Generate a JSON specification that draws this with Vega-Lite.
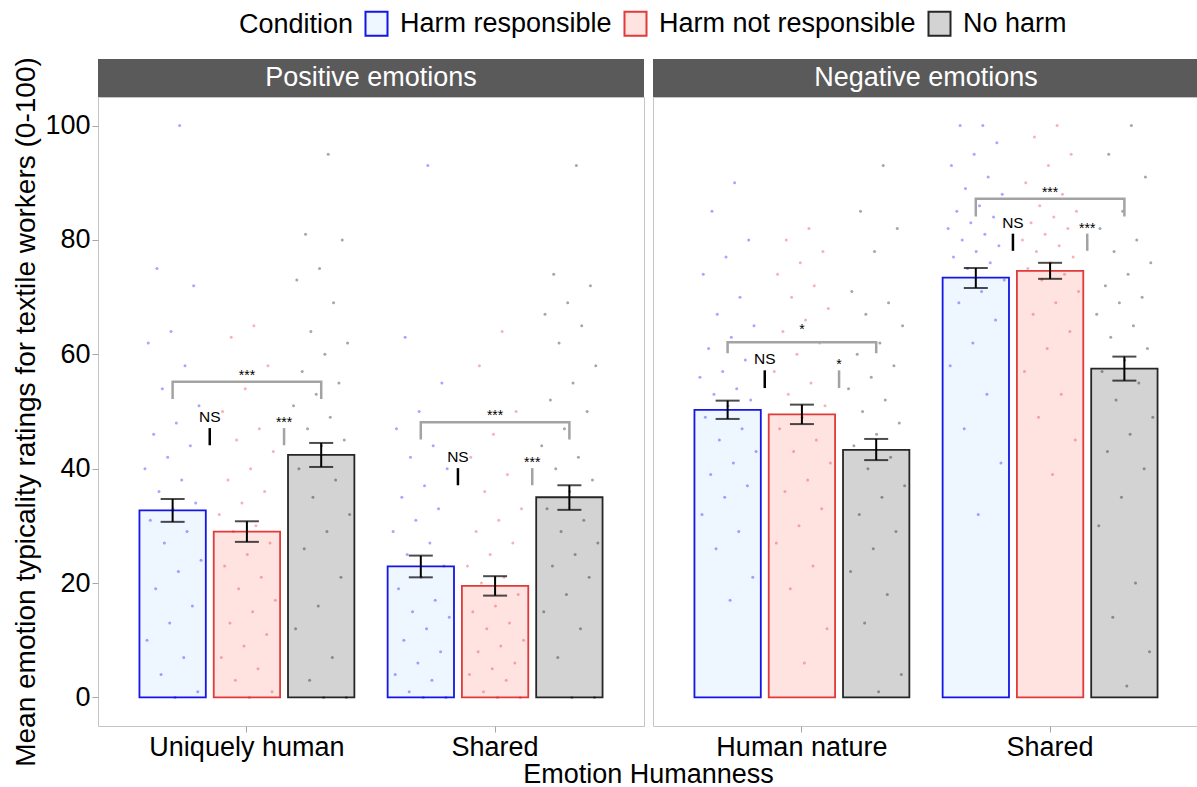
{
  "$schema": "https://vega.github.io/schema/vega-lite/v6.json",
  "padding": {"left": 12, "right": 0, "top": 10, "bottom": 0},
  "config": {
    "font": "Liberation Sans",
    "view": {"stroke": null},
    "axis": {"labelColor": "#000000", "titleColor": "#000000", "labelFontSize": 27, "titleFontSize": 28, "titleFontWeight": "normal", "tickColor": "#A6A6A6", "tickSize": 6, "tickWidth": 1, "domain": false, "grid": false, "labelLimit": 0},
    "legend": {"orient": "none", "legendX": 141, "legendY": -49, "direction": "horizontal", "titleOrient": "left", "titleFontSize": 27, "titleFontWeight": "normal", "titleColor": "#000000", "labelFontSize": 27, "labelColor": "#000000", "labelLimit": 0, "titleLimit": 0, "symbolSize": 576, "symbolStrokeWidth": 2, "symbolType": "M-0.917,-1H0.917V1H-0.917Z", "labelOffset": 10, "columnPadding": 8, "titlePadding": 9}
  },
  "datasets": {
    "summary": [
      {"valence": "Positive emotions", "humanness": "Uniquely human", "condition": "Harm responsible", "mean": 32.7, "lo": 30.7, "hi": 34.7},
      {"valence": "Positive emotions", "humanness": "Uniquely human", "condition": "Harm not responsible", "mean": 29.0, "lo": 27.2, "hi": 30.8},
      {"valence": "Positive emotions", "humanness": "Uniquely human", "condition": "No harm", "mean": 42.4, "lo": 40.3, "hi": 44.5},
      {"valence": "Positive emotions", "humanness": "Shared", "condition": "Harm responsible", "mean": 22.9, "lo": 21.0, "hi": 24.8},
      {"valence": "Positive emotions", "humanness": "Shared", "condition": "Harm not responsible", "mean": 19.5, "lo": 17.8, "hi": 21.2},
      {"valence": "Positive emotions", "humanness": "Shared", "condition": "No harm", "mean": 35.0, "lo": 32.8, "hi": 37.1},
      {"valence": "Negative emotions", "humanness": "Human nature", "condition": "Harm responsible", "mean": 50.3, "lo": 48.7, "hi": 51.9},
      {"valence": "Negative emotions", "humanness": "Human nature", "condition": "Harm not responsible", "mean": 49.5, "lo": 47.8, "hi": 51.2},
      {"valence": "Negative emotions", "humanness": "Human nature", "condition": "No harm", "mean": 43.3, "lo": 41.5, "hi": 45.2},
      {"valence": "Negative emotions", "humanness": "Shared", "condition": "Harm responsible", "mean": 73.4, "lo": 71.6, "hi": 75.1},
      {"valence": "Negative emotions", "humanness": "Shared", "condition": "Harm not responsible", "mean": 74.6, "lo": 73.2, "hi": 76.0},
      {"valence": "Negative emotions", "humanness": "Shared", "condition": "No harm", "mean": 57.5, "lo": 55.4, "hi": 59.6}
    ],
    "brackets": [
      {"valence": "Positive emotions", "humanness": "Uniquely human", "pos": "Harm responsible", "y": 52.2, "ord": 1},
      {"valence": "Positive emotions", "humanness": "Uniquely human", "pos": "Harm responsible", "y": 55.2, "ord": 2},
      {"valence": "Positive emotions", "humanness": "Uniquely human", "pos": "No harm", "y": 55.2, "ord": 3},
      {"valence": "Positive emotions", "humanness": "Uniquely human", "pos": "No harm", "y": 52.2, "ord": 4},
      {"valence": "Positive emotions", "humanness": "Shared", "pos": "Harm responsible", "y": 45.1, "ord": 1},
      {"valence": "Positive emotions", "humanness": "Shared", "pos": "Harm responsible", "y": 48.1, "ord": 2},
      {"valence": "Positive emotions", "humanness": "Shared", "pos": "No harm", "y": 48.1, "ord": 3},
      {"valence": "Positive emotions", "humanness": "Shared", "pos": "No harm", "y": 45.1, "ord": 4},
      {"valence": "Negative emotions", "humanness": "Human nature", "pos": "Harm responsible", "y": 60.2, "ord": 1},
      {"valence": "Negative emotions", "humanness": "Human nature", "pos": "Harm responsible", "y": 62.1, "ord": 2},
      {"valence": "Negative emotions", "humanness": "Human nature", "pos": "No harm", "y": 62.1, "ord": 3},
      {"valence": "Negative emotions", "humanness": "Human nature", "pos": "No harm", "y": 60.2, "ord": 4},
      {"valence": "Negative emotions", "humanness": "Shared", "pos": "Harm responsible", "y": 84.1, "ord": 1},
      {"valence": "Negative emotions", "humanness": "Shared", "pos": "Harm responsible", "y": 87.2, "ord": 2},
      {"valence": "Negative emotions", "humanness": "Shared", "pos": "No harm", "y": 87.2, "ord": 3},
      {"valence": "Negative emotions", "humanness": "Shared", "pos": "No harm", "y": 84.1, "ord": 4}
    ],
    "bracketLabels": [
      {"valence": "Positive emotions", "humanness": "Uniquely human", "pos": "Harm not responsible", "label": "***", "y": 55.4},
      {"valence": "Positive emotions", "humanness": "Shared", "pos": "Harm not responsible", "label": "***", "y": 48.3},
      {"valence": "Negative emotions", "humanness": "Human nature", "pos": "Harm not responsible", "label": "*", "y": 63.4},
      {"valence": "Negative emotions", "humanness": "Shared", "pos": "Harm not responsible", "label": "***", "y": 87.4}
    ],
    "tests": [
      {"valence": "Positive emotions", "humanness": "Uniquely human", "pair": "HR vs HN", "label": "NS", "top": 47.1, "bottom": 44.1},
      {"valence": "Positive emotions", "humanness": "Uniquely human", "pair": "HN vs NH", "label": "***", "top": 47.1, "bottom": 44.1},
      {"valence": "Positive emotions", "humanness": "Shared", "pair": "HR vs HN", "label": "NS", "top": 40.1, "bottom": 37.1},
      {"valence": "Positive emotions", "humanness": "Shared", "pair": "HN vs NH", "label": "***", "top": 40.1, "bottom": 37.1},
      {"valence": "Negative emotions", "humanness": "Human nature", "pair": "HR vs HN", "label": "NS", "top": 57.2, "bottom": 54.1},
      {"valence": "Negative emotions", "humanness": "Human nature", "pair": "HN vs NH", "label": "*", "top": 57.2, "bottom": 54.1},
      {"valence": "Negative emotions", "humanness": "Shared", "pair": "HR vs HN", "label": "NS", "top": 81.1, "bottom": 78.1},
      {"valence": "Negative emotions", "humanness": "Shared", "pair": "HN vs NH", "label": "***", "top": 81.1, "bottom": 78.1}
    ],
    "posUH": [
      {"cond":"HR","rating":100},{"cond":"HR","rating":75},{"cond":"HR","rating":72},{"cond":"HR","rating":64},{"cond":"HR","rating":62},{"cond":"HR","rating":58},{"cond":"HR","rating":54},{"cond":"HR","rating":51},{"cond":"HR","rating":48},{"cond":"HR","rating":46},{"cond":"HR","rating":44},{"cond":"HR","rating":42},{"cond":"HR","rating":40},{"cond":"HR","rating":38},{"cond":"HR","rating":36},{"cond":"HR","rating":34},{"cond":"HR","rating":33},{"cond":"HR","rating":31},{"cond":"HR","rating":29},{"cond":"HR","rating":27},{"cond":"HR","rating":24},{"cond":"HR","rating":22},{"cond":"HR","rating":19},{"cond":"HR","rating":16},{"cond":"HR","rating":13},{"cond":"HR","rating":10},{"cond":"HR","rating":7},{"cond":"HR","rating":4},{"cond":"HR","rating":1},{"cond":"HR","rating":0},
      {"cond":"HN","rating":65},{"cond":"HN","rating":63},{"cond":"HN","rating":58},{"cond":"HN","rating":54},{"cond":"HN","rating":50},{"cond":"HN","rating":47},{"cond":"HN","rating":45},{"cond":"HN","rating":43},{"cond":"HN","rating":40},{"cond":"HN","rating":38},{"cond":"HN","rating":36},{"cond":"HN","rating":34},{"cond":"HN","rating":32},{"cond":"HN","rating":30},{"cond":"HN","rating":29},{"cond":"HN","rating":27},{"cond":"HN","rating":25},{"cond":"HN","rating":23},{"cond":"HN","rating":21},{"cond":"HN","rating":19},{"cond":"HN","rating":17},{"cond":"HN","rating":15},{"cond":"HN","rating":13},{"cond":"HN","rating":11},{"cond":"HN","rating":9},{"cond":"HN","rating":7},{"cond":"HN","rating":5},{"cond":"HN","rating":3},{"cond":"HN","rating":1},{"cond":"HN","rating":0},
      {"cond":"NH","rating":95},{"cond":"NH","rating":81},{"cond":"NH","rating":80},{"cond":"NH","rating":75},{"cond":"NH","rating":73},{"cond":"NH","rating":69},{"cond":"NH","rating":64},{"cond":"NH","rating":62},{"cond":"NH","rating":60},{"cond":"NH","rating":57},{"cond":"NH","rating":55},{"cond":"NH","rating":53},{"cond":"NH","rating":51},{"cond":"NH","rating":49},{"cond":"NH","rating":47},{"cond":"NH","rating":45},{"cond":"NH","rating":44},{"cond":"NH","rating":40},{"cond":"NH","rating":38},{"cond":"NH","rating":35},{"cond":"NH","rating":32},{"cond":"NH","rating":29},{"cond":"NH","rating":26},{"cond":"NH","rating":21},{"cond":"NH","rating":16},{"cond":"NH","rating":12},{"cond":"NH","rating":7},{"cond":"NH","rating":3},{"cond":"NH","rating":0},{"cond":"NH","rating":0}
    ],
    "posSH": [
      {"cond":"HR","rating":93},{"cond":"HR","rating":63},{"cond":"HR","rating":55},{"cond":"HR","rating":50},{"cond":"HR","rating":47},{"cond":"HR","rating":44},{"cond":"HR","rating":42},{"cond":"HR","rating":40},{"cond":"HR","rating":37},{"cond":"HR","rating":35},{"cond":"HR","rating":33},{"cond":"HR","rating":31},{"cond":"HR","rating":29},{"cond":"HR","rating":27},{"cond":"HR","rating":25},{"cond":"HR","rating":23},{"cond":"HR","rating":21},{"cond":"HR","rating":19},{"cond":"HR","rating":17},{"cond":"HR","rating":15},{"cond":"HR","rating":14},{"cond":"HR","rating":12},{"cond":"HR","rating":10},{"cond":"HR","rating":8},{"cond":"HR","rating":6},{"cond":"HR","rating":4},{"cond":"HR","rating":3},{"cond":"HR","rating":1},{"cond":"HR","rating":0},{"cond":"HR","rating":0},
      {"cond":"HN","rating":64},{"cond":"HN","rating":58},{"cond":"HN","rating":50},{"cond":"HN","rating":46},{"cond":"HN","rating":42},{"cond":"HN","rating":39},{"cond":"HN","rating":36},{"cond":"HN","rating":33},{"cond":"HN","rating":31},{"cond":"HN","rating":29},{"cond":"HN","rating":27},{"cond":"HN","rating":25},{"cond":"HN","rating":23},{"cond":"HN","rating":21},{"cond":"HN","rating":20},{"cond":"HN","rating":18},{"cond":"HN","rating":16},{"cond":"HN","rating":15},{"cond":"HN","rating":13},{"cond":"HN","rating":12},{"cond":"HN","rating":10},{"cond":"HN","rating":9},{"cond":"HN","rating":8},{"cond":"HN","rating":6},{"cond":"HN","rating":5},{"cond":"HN","rating":4},{"cond":"HN","rating":3},{"cond":"HN","rating":1},{"cond":"HN","rating":0},{"cond":"HN","rating":0},
      {"cond":"NH","rating":93},{"cond":"NH","rating":74},{"cond":"NH","rating":72},{"cond":"NH","rating":69},{"cond":"NH","rating":67},{"cond":"NH","rating":65},{"cond":"NH","rating":62},{"cond":"NH","rating":58},{"cond":"NH","rating":55},{"cond":"NH","rating":52},{"cond":"NH","rating":50},{"cond":"NH","rating":47},{"cond":"NH","rating":44},{"cond":"NH","rating":42},{"cond":"NH","rating":40},{"cond":"NH","rating":38},{"cond":"NH","rating":36},{"cond":"NH","rating":33},{"cond":"NH","rating":31},{"cond":"NH","rating":29},{"cond":"NH","rating":27},{"cond":"NH","rating":25},{"cond":"NH","rating":23},{"cond":"NH","rating":21},{"cond":"NH","rating":18},{"cond":"NH","rating":15},{"cond":"NH","rating":12},{"cond":"NH","rating":7},{"cond":"NH","rating":0},{"cond":"NH","rating":0}
    ],
    "negHN": [
      {"cond":"HR","rating":90},{"cond":"HR","rating":85},{"cond":"HR","rating":80},{"cond":"HR","rating":77},{"cond":"HR","rating":74},{"cond":"HR","rating":70},{"cond":"HR","rating":67},{"cond":"HR","rating":65},{"cond":"HR","rating":63},{"cond":"HR","rating":61},{"cond":"HR","rating":59},{"cond":"HR","rating":57},{"cond":"HR","rating":56},{"cond":"HR","rating":54},{"cond":"HR","rating":53},{"cond":"HR","rating":52},{"cond":"HR","rating":51},{"cond":"HR","rating":49},{"cond":"HR","rating":47},{"cond":"HR","rating":45},{"cond":"HR","rating":43},{"cond":"HR","rating":41},{"cond":"HR","rating":39},{"cond":"HR","rating":37},{"cond":"HR","rating":35},{"cond":"HR","rating":32},{"cond":"HR","rating":29},{"cond":"HR","rating":26},{"cond":"HR","rating":21},{"cond":"HR","rating":17},
      {"cond":"HN","rating":82},{"cond":"HN","rating":80},{"cond":"HN","rating":78},{"cond":"HN","rating":76},{"cond":"HN","rating":74},{"cond":"HN","rating":72},{"cond":"HN","rating":70},{"cond":"HN","rating":68},{"cond":"HN","rating":66},{"cond":"HN","rating":64},{"cond":"HN","rating":62},{"cond":"HN","rating":60},{"cond":"HN","rating":57},{"cond":"HN","rating":55},{"cond":"HN","rating":53},{"cond":"HN","rating":51},{"cond":"HN","rating":49},{"cond":"HN","rating":47},{"cond":"HN","rating":45},{"cond":"HN","rating":43},{"cond":"HN","rating":41},{"cond":"HN","rating":38},{"cond":"HN","rating":36},{"cond":"HN","rating":33},{"cond":"HN","rating":30},{"cond":"HN","rating":27},{"cond":"HN","rating":23},{"cond":"HN","rating":19},{"cond":"HN","rating":12},{"cond":"HN","rating":6},
      {"cond":"NH","rating":93},{"cond":"NH","rating":85},{"cond":"NH","rating":82},{"cond":"NH","rating":78},{"cond":"NH","rating":71},{"cond":"NH","rating":69},{"cond":"NH","rating":67},{"cond":"NH","rating":65},{"cond":"NH","rating":62},{"cond":"NH","rating":60},{"cond":"NH","rating":58},{"cond":"NH","rating":56},{"cond":"NH","rating":54},{"cond":"NH","rating":52},{"cond":"NH","rating":50},{"cond":"NH","rating":48},{"cond":"NH","rating":46},{"cond":"NH","rating":44},{"cond":"NH","rating":42},{"cond":"NH","rating":40},{"cond":"NH","rating":37},{"cond":"NH","rating":35},{"cond":"NH","rating":32},{"cond":"NH","rating":29},{"cond":"NH","rating":26},{"cond":"NH","rating":22},{"cond":"NH","rating":18},{"cond":"NH","rating":13},{"cond":"NH","rating":4},{"cond":"NH","rating":1}
    ],
    "negSH": [
      {"cond":"HR","rating":100},{"cond":"HR","rating":100},{"cond":"HR","rating":97},{"cond":"HR","rating":95},{"cond":"HR","rating":93},{"cond":"HR","rating":91},{"cond":"HR","rating":89},{"cond":"HR","rating":88},{"cond":"HR","rating":86},{"cond":"HR","rating":85},{"cond":"HR","rating":84},{"cond":"HR","rating":83},{"cond":"HR","rating":82},{"cond":"HR","rating":81},{"cond":"HR","rating":80},{"cond":"HR","rating":79},{"cond":"HR","rating":78},{"cond":"HR","rating":77},{"cond":"HR","rating":76},{"cond":"HR","rating":75},{"cond":"HR","rating":73},{"cond":"HR","rating":71},{"cond":"HR","rating":69},{"cond":"HR","rating":66},{"cond":"HR","rating":62},{"cond":"HR","rating":58},{"cond":"HR","rating":53},{"cond":"HR","rating":47},{"cond":"HR","rating":41},{"cond":"HR","rating":32},
      {"cond":"HN","rating":100},{"cond":"HN","rating":98},{"cond":"HN","rating":95},{"cond":"HN","rating":93},{"cond":"HN","rating":90},{"cond":"HN","rating":88},{"cond":"HN","rating":86},{"cond":"HN","rating":85},{"cond":"HN","rating":84},{"cond":"HN","rating":83},{"cond":"HN","rating":82},{"cond":"HN","rating":81},{"cond":"HN","rating":80},{"cond":"HN","rating":79},{"cond":"HN","rating":78},{"cond":"HN","rating":77},{"cond":"HN","rating":76},{"cond":"HN","rating":75},{"cond":"HN","rating":74},{"cond":"HN","rating":73},{"cond":"HN","rating":71},{"cond":"HN","rating":69},{"cond":"HN","rating":67},{"cond":"HN","rating":64},{"cond":"HN","rating":61},{"cond":"HN","rating":57},{"cond":"HN","rating":53},{"cond":"HN","rating":49},{"cond":"HN","rating":45},{"cond":"HN","rating":39},
      {"cond":"NH","rating":100},{"cond":"NH","rating":95},{"cond":"NH","rating":91},{"cond":"NH","rating":85},{"cond":"NH","rating":82},{"cond":"NH","rating":80},{"cond":"NH","rating":78},{"cond":"NH","rating":76},{"cond":"NH","rating":74},{"cond":"NH","rating":72},{"cond":"NH","rating":70},{"cond":"NH","rating":69},{"cond":"NH","rating":67},{"cond":"NH","rating":65},{"cond":"NH","rating":63},{"cond":"NH","rating":61},{"cond":"NH","rating":59},{"cond":"NH","rating":57},{"cond":"NH","rating":55},{"cond":"NH","rating":52},{"cond":"NH","rating":49},{"cond":"NH","rating":46},{"cond":"NH","rating":43},{"cond":"NH","rating":40},{"cond":"NH","rating":35},{"cond":"NH","rating":30},{"cond":"NH","rating":20},{"cond":"NH","rating":14},{"cond":"NH","rating":8},{"cond":"NH","rating":2}
    ]
  },
  "columns": 2,
  "spacing": {"row": 0, "column": 9},
  "bounds": "flush",
  "resolve": {
    "scale": {"x": "independent", "y": "independent", "xOffset": "independent", "color": "independent", "fill": "shared", "stroke": "shared"},
    "axis": {"x": "independent", "y": "independent"}
  },
  "concat": [
    {
      "width": 546, "height": 38,
      "view": {"fill": "#5A5A5A", "stroke": null},
      "data": {"values": [{"strip": "Positive emotions"}]},
      "mark": {"type": "text", "color": "#FFFFFF", "fontSize": 27, "baseline": "middle", "align": "center"},
      "encoding": {"text": {"field": "strip", "type": "nominal"}}
    },
    {
      "width": 546, "height": 38,
      "view": {"fill": "#5A5A5A", "stroke": null},
      "data": {"values": [{"strip": "Negative emotions"}]},
      "mark": {"type": "text", "color": "#FFFFFF", "fontSize": 27, "baseline": "middle", "align": "center"},
      "encoding": {"text": {"field": "strip", "type": "nominal"}}
    },
    {
      "width": 546, "height": 629,
      "view": {"stroke": "#C4C4C4", "strokeWidth": 1},
      "resolve": {"scale": {"xOffset": "independent"}},
      "layer": [
        {
          "data": {"name": "summary"},
          "transform": [{"filter": "datum.valence === 'Positive emotions'"}],
          "mark": {"type": "bar", "strokeWidth": 1.8},
          "encoding": {
            "x": {"field": "humanness", "type": "nominal", "scale": {"domain": ["Uniquely human", "Shared"], "paddingInner": 0.134, "paddingOuter": 0.167}, "axis": {"title": "Emotion Humanness", "titleX": 550, "titleY": 56, "titleBaseline": "alphabetic", "titleAlign": "center", "titleAnchor": null, "titleFontSize": 27, "labelAngle": 0, "labelPadding": 2}},
            "xOffset": {"field": "condition", "type": "nominal", "scale": {"domain": ["Harm responsible", "Harm not responsible", "No harm"], "paddingInner": 0.1067, "paddingOuter": 0}},
            "y": {"field": "mean", "type": "quantitative", "scale": {"domain": [-5, 105], "nice": false, "zero": false}, "axis": {"values": [0, 20, 40, 60, 80, 100], "title": "Mean emotion typicality ratings for textile workers (0-100)", "titlePadding": 4, "labelPadding": 2}},
            "fill": {"field": "condition", "type": "nominal", "title": "Condition", "scale": {"domain": ["Harm responsible", "Harm not responsible", "No harm"], "range": ["#EEF6FF", "#FFE3E1", "#D3D3D3"]}},
            "stroke": {"field": "condition", "type": "nominal", "title": "Condition", "scale": {"domain": ["Harm responsible", "Harm not responsible", "No harm"], "range": ["#1515E6", "#E03A3A", "#262626"]}}
          }
        },
        {
          "layer": [
            {
              "data": {"name": "posUH"},
              "transform": [
                {"window": [{"op": "row_number", "as": "k"}], "groupby": ["cond"]},
                {"calculate": "indexof(['HR','HN','NH'], datum.cond) + ((datum.k * 0.618034) % 1 - 0.5) * 0.8", "as": "jx"}
              ],
              "mark": {"type": "circle", "size": 9, "opacity": 0.35},
              "encoding": {
                "x": {"datum": "Uniquely human", "type": "nominal", "scale": {"domain": ["Uniquely human", "Shared"], "paddingInner": 0.134, "paddingOuter": 0.167}},
                "xOffset": {"field": "jx", "type": "quantitative", "scale": {"domain": [-0.4467, 2.4467], "nice": false, "zero": false}},
                "y": {"field": "rating", "type": "quantitative", "scale": {"domain": [-5, 105], "nice": false, "zero": false}},
                "color": {"field": "cond", "type": "nominal", "scale": {"domain": ["HR", "HN", "NH"], "range": ["#0000FF", "#E8232A", "#000000"]}, "legend": null}
              }
            },
            {
              "data": {"name": "posSH"},
              "transform": [
                {"window": [{"op": "row_number", "as": "k"}], "groupby": ["cond"]},
                {"calculate": "indexof(['HR','HN','NH'], datum.cond) + ((datum.k * 0.618034) % 1 - 0.5) * 0.8", "as": "jx"}
              ],
              "mark": {"type": "circle", "size": 9, "opacity": 0.35},
              "encoding": {
                "x": {"datum": "Shared", "type": "nominal", "scale": {"domain": ["Uniquely human", "Shared"], "paddingInner": 0.134, "paddingOuter": 0.167}},
                "xOffset": {"field": "jx", "type": "quantitative", "scale": {"domain": [-0.4467, 2.4467], "nice": false, "zero": false}},
                "y": {"field": "rating", "type": "quantitative", "scale": {"domain": [-5, 105], "nice": false, "zero": false}},
                "color": {"field": "cond", "type": "nominal", "scale": {"domain": ["HR", "HN", "NH"], "range": ["#0000FF", "#E8232A", "#000000"]}, "legend": null}
              }
            }
          ]
        },
        {
          "data": {"name": "summary"},
          "transform": [{"filter": "datum.valence === 'Positive emotions'"}],
          "encoding": {
            "x": {"field": "humanness", "type": "nominal", "scale": {"domain": ["Uniquely human", "Shared"], "paddingInner": 0.134, "paddingOuter": 0.167}},
            "xOffset": {"field": "condition", "type": "nominal", "scale": {"domain": ["Harm responsible", "Harm not responsible", "No harm"], "paddingInner": 0.1067, "paddingOuter": 0}}
          },
          "layer": [
            {"mark": {"type": "rule", "color": "#000000", "strokeWidth": 2}, "encoding": {"y": {"field": "lo", "type": "quantitative", "scale": {"domain": [-5, 105], "nice": false, "zero": false}}, "y2": {"field": "hi"}}},
            {"mark": {"type": "tick", "color": "#000000", "thickness": 2, "size": 24}, "encoding": {"y": {"field": "lo", "type": "quantitative", "scale": {"domain": [-5, 105], "nice": false, "zero": false}}}},
            {"mark": {"type": "tick", "color": "#000000", "thickness": 2, "size": 24}, "encoding": {"y": {"field": "hi", "type": "quantitative", "scale": {"domain": [-5, 105], "nice": false, "zero": false}}}}
          ]
        },
        {
          "layer": [
            {
              "data": {"name": "brackets"},
              "transform": [{"filter": "datum.valence === 'Positive emotions'"}],
              "mark": {"type": "line", "color": "#A3A3A3", "strokeWidth": 2.5},
              "encoding": {
                "x": {"field": "humanness", "type": "nominal", "scale": {"domain": ["Uniquely human", "Shared"], "paddingInner": 0.134, "paddingOuter": 0.167}},
                "xOffset": {"field": "pos", "type": "nominal", "scale": {"type": "point", "domain": ["Harm responsible", "HR vs HN", "Harm not responsible", "HN vs NH", "No harm"], "padding": 0.8925}},
                "y": {"field": "y", "type": "quantitative", "scale": {"domain": [-5, 105], "nice": false, "zero": false}},
                "detail": {"field": "humanness"},
                "order": {"field": "ord", "type": "quantitative"}
              }
            },
            {
              "data": {"name": "bracketLabels"},
              "transform": [{"filter": "datum.valence === 'Positive emotions'"}],
              "mark": {"type": "text", "fontSize": 14, "baseline": "alphabetic", "dy": -1, "color": "#000000"},
              "encoding": {
                "x": {"field": "humanness", "type": "nominal", "scale": {"domain": ["Uniquely human", "Shared"], "paddingInner": 0.134, "paddingOuter": 0.167}},
                "xOffset": {"field": "pos", "type": "nominal", "scale": {"type": "point", "domain": ["Harm responsible", "HR vs HN", "Harm not responsible", "HN vs NH", "No harm"], "padding": 0.8925}},
                "y": {"field": "y", "type": "quantitative", "scale": {"domain": [-5, 105], "nice": false, "zero": false}},
                "text": {"field": "label"}
              }
            },
            {
              "data": {"name": "tests"},
              "transform": [{"filter": "datum.valence === 'Positive emotions'"}],
              "mark": {"type": "rule", "strokeWidth": 2.5},
              "encoding": {
                "x": {"field": "humanness", "type": "nominal", "scale": {"domain": ["Uniquely human", "Shared"], "paddingInner": 0.134, "paddingOuter": 0.167}},
                "xOffset": {"field": "pair", "type": "nominal", "scale": {"type": "point", "domain": ["Harm responsible", "HR vs HN", "Harm not responsible", "HN vs NH", "No harm"], "padding": 0.8925}},
                "y": {"field": "top", "type": "quantitative", "scale": {"domain": [-5, 105], "nice": false, "zero": false}},
                "y2": {"field": "bottom"},
                "color": {"condition": {"test": "datum.label === 'NS'", "value": "#000000"}, "value": "#A3A3A3"}
              }
            },
            {
              "data": {"name": "tests"},
              "transform": [{"filter": "datum.valence === 'Positive emotions' && datum.label === 'NS'"}],
              "mark": {"type": "text", "fontSize": 15.5, "baseline": "alphabetic", "dy": -6, "color": "#000000"},
              "encoding": {
                "x": {"field": "humanness", "type": "nominal", "scale": {"domain": ["Uniquely human", "Shared"], "paddingInner": 0.134, "paddingOuter": 0.167}},
                "xOffset": {"field": "pair", "type": "nominal", "scale": {"type": "point", "domain": ["Harm responsible", "HR vs HN", "Harm not responsible", "HN vs NH", "No harm"], "padding": 0.8925}},
                "y": {"field": "top", "type": "quantitative", "scale": {"domain": [-5, 105], "nice": false, "zero": false}},
                "text": {"field": "label"}
              }
            },
            {
              "data": {"name": "tests"},
              "transform": [{"filter": "datum.valence === 'Positive emotions' && datum.label !== 'NS'"}],
              "mark": {"type": "text", "fontSize": 14, "baseline": "alphabetic", "dy": -1, "color": "#000000"},
              "encoding": {
                "x": {"field": "humanness", "type": "nominal", "scale": {"domain": ["Uniquely human", "Shared"], "paddingInner": 0.134, "paddingOuter": 0.167}},
                "xOffset": {"field": "pair", "type": "nominal", "scale": {"type": "point", "domain": ["Harm responsible", "HR vs HN", "Harm not responsible", "HN vs NH", "No harm"], "padding": 0.8925}},
                "y": {"field": "top", "type": "quantitative", "scale": {"domain": [-5, 105], "nice": false, "zero": false}},
                "text": {"field": "label"}
              }
            }
          ]
        }
      ]
    },
    {
      "width": 546, "height": 629,
      "view": {"stroke": "#C4C4C4", "strokeWidth": 1},
      "resolve": {"scale": {"xOffset": "independent"}},
      "layer": [
        {
          "data": {"name": "summary"},
          "transform": [{"filter": "datum.valence === 'Negative emotions'"}],
          "mark": {"type": "bar", "strokeWidth": 1.8},
          "encoding": {
            "x": {"field": "humanness", "type": "nominal", "scale": {"domain": ["Human nature", "Shared"], "paddingInner": 0.134, "paddingOuter": 0.167}, "axis": {"title": null, "labelAngle": 0, "labelPadding": 2}},
            "xOffset": {"field": "condition", "type": "nominal", "scale": {"domain": ["Harm responsible", "Harm not responsible", "No harm"], "paddingInner": 0.1067, "paddingOuter": 0}},
            "y": {"field": "mean", "type": "quantitative", "scale": {"domain": [-5, 105], "nice": false, "zero": false}, "axis": null},
            "fill": {"field": "condition", "type": "nominal", "title": "Condition", "scale": {"domain": ["Harm responsible", "Harm not responsible", "No harm"], "range": ["#EEF6FF", "#FFE3E1", "#D3D3D3"]}},
            "stroke": {"field": "condition", "type": "nominal", "title": "Condition", "scale": {"domain": ["Harm responsible", "Harm not responsible", "No harm"], "range": ["#1515E6", "#E03A3A", "#262626"]}}
          }
        },
        {
          "layer": [
            {
              "data": {"name": "negHN"},
              "transform": [
                {"window": [{"op": "row_number", "as": "k"}], "groupby": ["cond"]},
                {"calculate": "indexof(['HR','HN','NH'], datum.cond) + ((datum.k * 0.618034) % 1 - 0.5) * 0.8", "as": "jx"}
              ],
              "mark": {"type": "circle", "size": 9, "opacity": 0.35},
              "encoding": {
                "x": {"datum": "Human nature", "type": "nominal", "scale": {"domain": ["Human nature", "Shared"], "paddingInner": 0.134, "paddingOuter": 0.167}},
                "xOffset": {"field": "jx", "type": "quantitative", "scale": {"domain": [-0.4467, 2.4467], "nice": false, "zero": false}},
                "y": {"field": "rating", "type": "quantitative", "scale": {"domain": [-5, 105], "nice": false, "zero": false}},
                "color": {"field": "cond", "type": "nominal", "scale": {"domain": ["HR", "HN", "NH"], "range": ["#0000FF", "#E8232A", "#000000"]}, "legend": null}
              }
            },
            {
              "data": {"name": "negSH"},
              "transform": [
                {"window": [{"op": "row_number", "as": "k"}], "groupby": ["cond"]},
                {"calculate": "indexof(['HR','HN','NH'], datum.cond) + ((datum.k * 0.618034) % 1 - 0.5) * 0.8", "as": "jx"}
              ],
              "mark": {"type": "circle", "size": 9, "opacity": 0.35},
              "encoding": {
                "x": {"datum": "Shared", "type": "nominal", "scale": {"domain": ["Human nature", "Shared"], "paddingInner": 0.134, "paddingOuter": 0.167}},
                "xOffset": {"field": "jx", "type": "quantitative", "scale": {"domain": [-0.4467, 2.4467], "nice": false, "zero": false}},
                "y": {"field": "rating", "type": "quantitative", "scale": {"domain": [-5, 105], "nice": false, "zero": false}},
                "color": {"field": "cond", "type": "nominal", "scale": {"domain": ["HR", "HN", "NH"], "range": ["#0000FF", "#E8232A", "#000000"]}, "legend": null}
              }
            }
          ]
        },
        {
          "data": {"name": "summary"},
          "transform": [{"filter": "datum.valence === 'Negative emotions'"}],
          "encoding": {
            "x": {"field": "humanness", "type": "nominal", "scale": {"domain": ["Human nature", "Shared"], "paddingInner": 0.134, "paddingOuter": 0.167}},
            "xOffset": {"field": "condition", "type": "nominal", "scale": {"domain": ["Harm responsible", "Harm not responsible", "No harm"], "paddingInner": 0.1067, "paddingOuter": 0}}
          },
          "layer": [
            {"mark": {"type": "rule", "color": "#000000", "strokeWidth": 2}, "encoding": {"y": {"field": "lo", "type": "quantitative", "scale": {"domain": [-5, 105], "nice": false, "zero": false}}, "y2": {"field": "hi"}}},
            {"mark": {"type": "tick", "color": "#000000", "thickness": 2, "size": 24}, "encoding": {"y": {"field": "lo", "type": "quantitative", "scale": {"domain": [-5, 105], "nice": false, "zero": false}}}},
            {"mark": {"type": "tick", "color": "#000000", "thickness": 2, "size": 24}, "encoding": {"y": {"field": "hi", "type": "quantitative", "scale": {"domain": [-5, 105], "nice": false, "zero": false}}}}
          ]
        },
        {
          "layer": [
            {
              "data": {"name": "brackets"},
              "transform": [{"filter": "datum.valence === 'Negative emotions'"}],
              "mark": {"type": "line", "color": "#A3A3A3", "strokeWidth": 2.5},
              "encoding": {
                "x": {"field": "humanness", "type": "nominal", "scale": {"domain": ["Human nature", "Shared"], "paddingInner": 0.134, "paddingOuter": 0.167}},
                "xOffset": {"field": "pos", "type": "nominal", "scale": {"type": "point", "domain": ["Harm responsible", "HR vs HN", "Harm not responsible", "HN vs NH", "No harm"], "padding": 0.8925}},
                "y": {"field": "y", "type": "quantitative", "scale": {"domain": [-5, 105], "nice": false, "zero": false}},
                "detail": {"field": "humanness"},
                "order": {"field": "ord", "type": "quantitative"}
              }
            },
            {
              "data": {"name": "bracketLabels"},
              "transform": [{"filter": "datum.valence === 'Negative emotions'"}],
              "mark": {"type": "text", "fontSize": 14, "baseline": "alphabetic", "dy": -1, "color": "#000000"},
              "encoding": {
                "x": {"field": "humanness", "type": "nominal", "scale": {"domain": ["Human nature", "Shared"], "paddingInner": 0.134, "paddingOuter": 0.167}},
                "xOffset": {"field": "pos", "type": "nominal", "scale": {"type": "point", "domain": ["Harm responsible", "HR vs HN", "Harm not responsible", "HN vs NH", "No harm"], "padding": 0.8925}},
                "y": {"field": "y", "type": "quantitative", "scale": {"domain": [-5, 105], "nice": false, "zero": false}},
                "text": {"field": "label"}
              }
            },
            {
              "data": {"name": "tests"},
              "transform": [{"filter": "datum.valence === 'Negative emotions'"}],
              "mark": {"type": "rule", "strokeWidth": 2.5},
              "encoding": {
                "x": {"field": "humanness", "type": "nominal", "scale": {"domain": ["Human nature", "Shared"], "paddingInner": 0.134, "paddingOuter": 0.167}},
                "xOffset": {"field": "pair", "type": "nominal", "scale": {"type": "point", "domain": ["Harm responsible", "HR vs HN", "Harm not responsible", "HN vs NH", "No harm"], "padding": 0.8925}},
                "y": {"field": "top", "type": "quantitative", "scale": {"domain": [-5, 105], "nice": false, "zero": false}},
                "y2": {"field": "bottom"},
                "color": {"condition": {"test": "datum.label === 'NS'", "value": "#000000"}, "value": "#A3A3A3"}
              }
            },
            {
              "data": {"name": "tests"},
              "transform": [{"filter": "datum.valence === 'Negative emotions' && datum.label === 'NS'"}],
              "mark": {"type": "text", "fontSize": 15.5, "baseline": "alphabetic", "dy": -6, "color": "#000000"},
              "encoding": {
                "x": {"field": "humanness", "type": "nominal", "scale": {"domain": ["Human nature", "Shared"], "paddingInner": 0.134, "paddingOuter": 0.167}},
                "xOffset": {"field": "pair", "type": "nominal", "scale": {"type": "point", "domain": ["Harm responsible", "HR vs HN", "Harm not responsible", "HN vs NH", "No harm"], "padding": 0.8925}},
                "y": {"field": "top", "type": "quantitative", "scale": {"domain": [-5, 105], "nice": false, "zero": false}},
                "text": {"field": "label"}
              }
            },
            {
              "data": {"name": "tests"},
              "transform": [{"filter": "datum.valence === 'Negative emotions' && datum.label !== 'NS'"}],
              "mark": {"type": "text", "fontSize": 14, "baseline": "alphabetic", "dy": -1, "color": "#000000"},
              "encoding": {
                "x": {"field": "humanness", "type": "nominal", "scale": {"domain": ["Human nature", "Shared"], "paddingInner": 0.134, "paddingOuter": 0.167}},
                "xOffset": {"field": "pair", "type": "nominal", "scale": {"type": "point", "domain": ["Harm responsible", "HR vs HN", "Harm not responsible", "HN vs NH", "No harm"], "padding": 0.8925}},
                "y": {"field": "top", "type": "quantitative", "scale": {"domain": [-5, 105], "nice": false, "zero": false}},
                "text": {"field": "label"}
              }
            }
          ]
        }
      ]
    }
  ]
}
